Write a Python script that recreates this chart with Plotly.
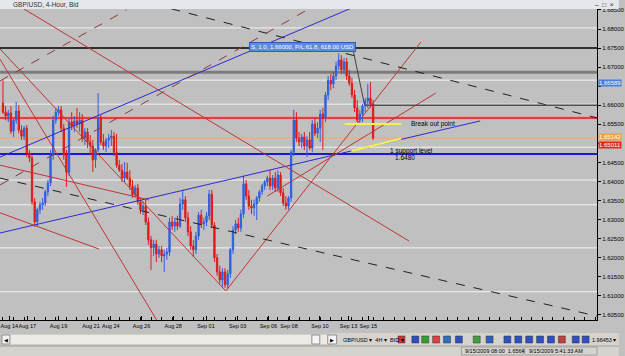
import plotly.graph_objects as go

# ---------------- data ----------------
OPEN = [1.6606,1.6582,1.6572,1.6580,1.6532,1.6561,1.6585,1.6535,1.6519,1.6540,
        1.6475,1.6462,1.6347,1.6294,1.6326,1.6339,1.6344,1.6373,1.6396,1.6469,
        1.6561,1.6582,1.6588,1.6540,1.6469,1.6425,1.6556,1.6546,1.6559,1.6551,
        1.6561,1.6514,1.6530,1.6504,1.6493,1.6457,1.6483,1.6567,1.6504,1.6493,
        1.6509,1.6514,1.6519,1.6477,1.6443,1.6430,1.6409,1.6425,1.6409,1.6388,
        1.6365,1.6383,1.6347,1.6326,1.6336,1.6294,1.6247,1.6226,1.6236,1.6210,
        1.6221,1.6205,1.6210,1.6215,1.6294,1.6283,1.6294,1.6283,1.6341,1.6352,
        1.6305,1.6268,1.6231,1.6221,1.6257,1.6312,1.6289,1.6294,1.6310,1.6367,
        1.6286,1.6200,1.6163,1.6142,1.6163,1.6129,1.6158,1.6221,1.6273,1.6289,
        1.6278,1.6315,1.6394,1.6362,1.6336,1.6331,1.6341,1.6357,1.6373,1.6388,
        1.6399,1.6409,1.6388,1.6409,1.6383,1.6417,1.6370,1.6344,1.6336,1.6357,
        1.6477,1.6561,1.6514,1.6504,1.6517,1.6493,1.6509,1.6488,1.6551,1.6527,
        1.6540,1.6577,1.6567,1.6627,1.6666,1.6656,1.6677,1.6703,1.6719,1.6693,
        1.6714,1.6677,1.6658,1.6627,1.6593,1.6561,1.6577,1.6598,1.6611,1.6619,
        1.6603]
HIGH = [1.6666,1.6598,1.6588,1.6598,1.6567,1.6609,1.6601,1.6548,1.6546,1.6548,
        1.6483,1.6469,1.6357,1.6331,1.6347,1.6357,1.6378,1.6404,1.6483,1.6572,
        1.6593,1.6598,1.6598,1.6551,1.6483,1.6567,1.6582,1.6572,1.6593,1.6582,
        1.6577,1.6540,1.6540,1.6522,1.6509,1.6488,1.6632,1.6577,1.6525,1.6514,
        1.6525,1.6535,1.6530,1.6525,1.6457,1.6446,1.6451,1.6449,1.6430,1.6404,
        1.6391,1.6394,1.6357,1.6347,1.6352,1.6305,1.6257,1.6247,1.6247,1.6231,
        1.6231,1.6221,1.6226,1.6305,1.6310,1.6305,1.6310,1.6357,1.6378,1.6362,
        1.6320,1.6283,1.6247,1.6268,1.6320,1.6326,1.6305,1.6320,1.6378,1.6378,
        1.6294,1.6210,1.6179,1.6173,1.6173,1.6168,1.6226,1.6283,1.6299,1.6305,
        1.6326,1.6415,1.6404,1.6378,1.6352,1.6352,1.6362,1.6378,1.6394,1.6404,
        1.6415,1.6430,1.6417,1.6425,1.6430,1.6425,1.6383,1.6362,1.6362,1.6483,
        1.6588,1.6582,1.6530,1.6525,1.6530,1.6519,1.6530,1.6561,1.6567,1.6556,
        1.6588,1.6593,1.6635,1.6677,1.6682,1.6687,1.6714,1.6737,1.6732,1.6724,
        1.6724,1.6693,1.6672,1.6640,1.6614,1.6588,1.6603,1.6619,1.6656,1.6661,
        1.6614]
LOW = [1.6577,1.6561,1.6556,1.6525,1.6517,1.6551,1.6527,1.6509,1.6509,1.6464,
       1.6451,1.6339,1.6281,1.6283,1.6315,1.6326,1.6336,1.6362,1.6388,1.6457,
       1.6551,1.6572,1.6530,1.6457,1.6386,1.6415,1.6535,1.6530,1.6540,1.6530,
       1.6504,1.6496,1.6488,1.6469,1.6425,1.6436,1.6477,1.6496,1.6483,1.6477,
       1.6488,1.6493,1.6467,1.6436,1.6425,1.6399,1.6399,1.6404,1.6378,1.6357,
       1.6357,1.6339,1.6315,1.6312,1.6286,1.6234,1.6168,1.6205,1.6189,1.6200,
       1.6189,1.6163,1.6195,1.6205,1.6273,1.6268,1.6273,1.6278,1.6326,1.6294,
       1.6257,1.6221,1.6202,1.6210,1.6247,1.6278,1.6273,1.6283,1.6299,1.6278,
       1.6189,1.6153,1.6132,1.6124,1.6121,1.6119,1.6147,1.6210,1.6262,1.6268,
       1.6268,1.6305,1.6352,1.6326,1.6315,1.6310,1.6299,1.6347,1.6365,1.6378,
       1.6388,1.6378,1.6378,1.6373,1.6373,1.6362,1.6336,1.6326,1.6326,1.6347,
       1.6467,1.6504,1.6493,1.6488,1.6483,1.6464,1.6483,1.6477,1.6519,1.6514,
       1.6504,1.6483,1.6556,1.6614,1.6640,1.6645,1.6666,1.6693,1.6682,1.6682,
       1.6666,1.6651,1.6619,1.6582,1.6556,1.6551,1.6556,1.6582,1.6593,1.6593,
       1.6509]
CLOSE = [1.6582,1.6572,1.6580,1.6532,1.6561,1.6585,1.6535,1.6519,1.6540,1.6475,
         1.6462,1.6347,1.6294,1.6326,1.6339,1.6344,1.6373,1.6396,1.6469,1.6561,
         1.6582,1.6588,1.6540,1.6469,1.6425,1.6556,1.6546,1.6559,1.6551,1.6561,
         1.6514,1.6530,1.6504,1.6493,1.6457,1.6483,1.6567,1.6504,1.6493,1.6509,
         1.6514,1.6519,1.6477,1.6443,1.6430,1.6409,1.6425,1.6409,1.6388,1.6365,
         1.6383,1.6347,1.6326,1.6336,1.6294,1.6247,1.6226,1.6236,1.6210,1.6221,
         1.6205,1.6210,1.6215,1.6294,1.6283,1.6294,1.6283,1.6341,1.6352,1.6305,
         1.6268,1.6231,1.6221,1.6257,1.6312,1.6289,1.6294,1.6310,1.6367,1.6286,
         1.6200,1.6163,1.6142,1.6163,1.6129,1.6158,1.6221,1.6273,1.6289,1.6278,
         1.6315,1.6394,1.6362,1.6336,1.6331,1.6341,1.6357,1.6373,1.6388,1.6399,
         1.6409,1.6388,1.6409,1.6383,1.6417,1.6370,1.6344,1.6336,1.6357,1.6477,
         1.6561,1.6514,1.6504,1.6517,1.6493,1.6509,1.6488,1.6551,1.6527,1.6540,
         1.6577,1.6567,1.6627,1.6666,1.6656,1.6677,1.6703,1.6719,1.6693,1.6714,
         1.6677,1.6658,1.6627,1.6593,1.6561,1.6577,1.6598,1.6611,1.6619,1.6603,
         1.65142]
BARS = list(range(len(CLOSE)))

DATE_TICK_BARS = [2.4, 9.2, 21, 33.3, 40.8, 52.4, 64.4, 76.8, 88.8, 100.4, 108.2, 119.9, 130.7, 138.2]
DATE_TICK_TEXT = ["Aug 14", "Aug 17", "Aug 19", "Aug 21", "Aug 24", "Aug 26", "Aug 28",
                  "Sep 01", "Sep 03", "Sep 06", "Sep 08", "Sep 10", "Sep 13", "Sep 15"]

PRICE_TICKS = [1.605, 1.610, 1.615, 1.620, 1.625, 1.630, 1.635, 1.640, 1.645, 1.650,
               1.655, 1.660, 1.665, 1.670, 1.675, 1.680, 1.685]
PRICE_TICK_TEXT = ["1.60500", "1.61000", "1.61500", "1.62000", "1.62500", "1.63000", "1.63500",
                   "1.64000", "1.64500", "", "1.65500", "1.66000", "", "1.67000", "1.67500",
                   "1.68000", "1.68500"]

# horizontal levels
WHITE_LEVELS = [1.6803, 1.6666, 1.6603, 1.6490, 1.6404, 1.6339, 1.6226, 1.6111]
BLACK_LEVEL = 1.6750
GRAY_LEVEL = 1.6687
RED_LEVEL = 1.6567
BID_LEVEL = 1.65142
SUPPORT_LEVEL = 1.6472
TRADE_PRICE = 1.66000
TRADE_BAR = 136.7

# trend lines: (bar0, price0, bar1, price1)
BLUE_LINES = [(-1.12, 1.6464, 131.8, 1.6855), (-1.12, 1.6265, 180.5, 1.6559)]
RED_LINES = [(7.87, 1.6853, 153.6, 1.6244), (-1.12, 1.6748, 84.3, 1.6113),
             (84.3, 1.6113, 158.1, 1.6766), (-1.12, 1.6721, 58.1, 1.6037),
             (-1.12, 1.6443, 55.1, 1.6352), (100, 1.6362, 163.7, 1.6632),
             (-1.12, 1.6318, 36.3, 1.6223)]
BLACK_DASH_LINES = [(63.7, 1.6853, 224.7, 1.6567), (-1.12, 1.6409, 224.7, 1.6047)]
BROWN_DASH_LINES = [(-1.12, 1.6664, 46.8, 1.6850), (-1.12, 1.6391, 115, 1.6850)]
YELLOW_LINES = [(131.8, 1.6480, 150.6, 1.6512), (129.2, 1.6551, 150.6, 1.6551)]
CONNECTOR = (132.6, 1.6740, 136.7, 1.6603)

RIGHT_LABELS = [("1.66589", 1.66589, "#4a7fd6", 0), ("1.65142", 1.65142, "#f0a040", 1.5),
                ("1.65011", 1.65011, "#e02828", -2)]

# ---------------- figure ----------------
W, H = 625, 356
ML, MR, MT, MB = 0, 22, 9, 36
PW, PH = W - ML - MR, H - MT - MB

def px(xp):
    return (xp - ML) / PW

def py(yp):
    return (H - MB - yp) / PH

FONT = "Liberation Sans"

fig = go.Figure()
fig.add_trace(go.Candlestick(
    x=BARS, open=OPEN, high=HIGH, low=LOW, close=CLOSE,
    increasing=dict(line=dict(color="#2f5fe0", width=1), fillcolor="#2f5fe0"),
    decreasing=dict(line=dict(color="#e01a1a", width=1), fillcolor="#e01a1a"),
    whiskerwidth=0, hoverinfo="skip"))

shapes = []

def hline(y, color, width, dash="solid", x0=0, layer="below"):
    shapes.append(dict(type="line", xref="paper", yref="y", x0=x0, x1=1, y0=y, y1=y,
                       line=dict(color=color, width=width, dash=dash), layer=layer))

for lv in WHITE_LEVELS:
    hline(lv, "#f2f2f2", 1)
hline(BLACK_LEVEL, "#000000", 1.5)
hline(GRAY_LEVEL, "#7c7c7c", 3)
hline(RED_LEVEL, "#f0a0a0", 4)
hline(RED_LEVEL, "#d82020", 1.5)
hline(BID_LEVEL, "#e6b08c", 2)
hline(SUPPORT_LEVEL, "#1a1ad0", 2)

def seg(t, color, width, dash="solid", layer="above"):
    shapes.append(dict(type="line", xref="x", yref="y", x0=t[0], y0=t[1], x1=t[2], y1=t[3],
                       line=dict(color=color, width=width, dash=dash), layer=layer))

for t in BLUE_LINES:
    seg(t, "#2b2bd0", 1)
for t in RED_LINES:
    seg(t, "#c03434", 1)
for t in BLACK_DASH_LINES:
    seg(t, "#202020", 1, "dash")
for t in BROWN_DASH_LINES:
    seg(t, "#8a3a3a", 1, "dash")
for t in YELLOW_LINES:
    seg(t, "#f4f050", 2)
seg(CONNECTOR, "#404040", 1)
shapes.append(dict(type="line", xref="x", yref="y", x0=TRADE_BAR, x1=230, y0=TRADE_PRICE, y1=TRADE_PRICE,
                   line=dict(color="#505050", width=1.5), layer="above"))

# window chrome
shapes.append(dict(type="rect", xref="paper", yref="paper", x0=px(0), x1=px(W), y0=py(9), y1=py(0),
                   fillcolor="#e4e7ec", line=dict(width=0), layer="above"))
shapes.append(dict(type="rect", xref="paper", yref="paper", x0=px(0), x1=px(W), y0=py(356), y1=py(333),
                   fillcolor="#d6d3ce", line=dict(width=0), layer="above"))
shapes.append(dict(type="rect", xref="paper", yref="paper", x0=px(1), x1=px(333), y0=py(345), y1=py(334),
                   fillcolor="#ecebe6", line=dict(color="#b0b0b0", width=1), layer="above"))
shapes.append(dict(type="rect", xref="paper", yref="paper", x0=px(2), x1=px(10), y0=py(344), y1=py(335),
                   fillcolor="#f4f4f4", line=dict(color="#909090", width=1), layer="above"))
shapes.append(dict(type="rect", xref="paper", yref="paper", x0=px(315), x1=px(323), y0=py(344), y1=py(335),
                   fillcolor="#f4f4f4", line=dict(color="#909090", width=1), layer="above"))
shapes.append(dict(type="rect", xref="paper", yref="paper", x0=px(331), x1=px(340), y0=py(344), y1=py(335),
                   fillcolor="#f4f4f4", line=dict(color="#909090", width=1), layer="above"))
shapes.append(dict(type="line", xref="paper", yref="paper", x0=px(0), x1=px(W), y0=py(346), y1=py(346),
                   line=dict(color="#a0a0a0", width=1), layer="above"))
shapes.append(dict(type="rect", xref="paper", yref="paper", x0=px(466), x1=px(528), y0=py(355), y1=py(347),
                   fillcolor="rgba(0,0,0,0)", line=dict(color="#a0a0a0", width=1), layer="above"))
shapes.append(dict(type="rect", xref="paper", yref="paper", x0=px(530), x1=px(603), y0=py(355), y1=py(347),
                   fillcolor="rgba(0,0,0,0)", line=dict(color="#a0a0a0", width=1), layer="above"))
ICONS = [(402, "#d03030"), (416, "#3050c0"), (426, "#30a030"), (437, "#e04040"), (448, "#3070c0"),
         (460, "#3050c0"), (478, "#40a040"), (491, "#3060c0"), (509, "#3050c0"), (520, "#3050c0"),
         (531, "#3050c0"), (542, "#3050c0"), (553, "#3050c0"), (564, "#c04040"), (578, "#3050c0"),
         (588, "#3050c0")]
for xi, col in ICONS:
    shapes.append(dict(type="rect", xref="paper", yref="paper", x0=px(xi), x1=px(xi + 7), y0=py(343), y1=py(336),
                       fillcolor=col, line=dict(color="#303030", width=0.5), layer="above"))

annotations = []

def note(text, x, y, xref="x", yref="y", size=7, color="#000000", xanchor="left", yanchor="middle", **kw):
    annotations.append(dict(text=text, x=x, y=y, xref=xref, yref=yref, showarrow=False,
                            font=dict(family=FONT, size=size, color=color),
                            xanchor=xanchor, yanchor=yanchor, **kw))

note("Break out point", 153.6, 1.6551, size=6.5)
note("1 support level", 145.7, 1.6481, size=6.5)
note("1.6480", 147.6, 1.6462, size=6.5)
note("S, 1.0, 1.66000, P/L:61.8, 618.00 USD", 113.2, 1.6754, size=6, color="#ffffff",
     xanchor="center", bgcolor="#5b8ddc", bordercolor="#2e5fb0", borderwidth=1, borderpad=1)

for txt, val, col, ys in RIGHT_LABELS:
    note(txt, 1.0, val, xref="paper", size=6, color="#ffffff", bgcolor=col, borderpad=0, xshift=1, yshift=ys)

note("GBP/USD, 4-Hour, Bid", px(11), py(4.5), xref="paper", yref="paper", size=6.5, color="#303030")
note("\u2013  \u25a1  \u00d7", px(622), py(4.5), xref="paper", yref="paper", size=6.5, color="#303030", xanchor="right")
note("\u25c0", px(6), py(339.5), xref="paper", yref="paper", size=5, color="#000000", xanchor="center")
note("\u25b6", px(335.5), py(339.5), xref="paper", yref="paper", size=5, color="#000000", xanchor="center")
note("GBP/USD \u25be  4H \u25be  BID \u25be", px(344), py(339.5), xref="paper", yref="paper", size=5.5, color="#000000")
note("1.96453 \u25be", px(624), py(339.5), xref="paper", yref="paper", size=5.5, color="#000000", xanchor="right")
note("9/15/2009 08:00  1.6564", px(468), py(351), xref="paper", yref="paper", size=5.5, color="#000000")
note("9/15/2009 5:41:33 AM", px(532), py(351), xref="paper", yref="paper", size=5.5, color="#000000")

fig.update_layout(
    width=W, height=H, margin=dict(l=ML, r=MR, t=MT, b=MB, pad=0),
    paper_bgcolor="#c0c0c0", plot_bgcolor="#c0c0c0", showlegend=False,
    shapes=shapes, annotations=annotations,
    font=dict(family=FONT, size=7, color="#000000"),
    xaxis=dict(range=[-1.12, 224.7], tickmode="array", tickvals=DATE_TICK_BARS, ticktext=DATE_TICK_TEXT,
               tickangle=0, ticks="inside", ticklen=4, tickcolor="#000000", showgrid=False, zeroline=False,
               showline=True, linecolor="#000000", linewidth=1, rangeslider=dict(visible=False),
               tickfont=dict(family=FONT, size=5.5, color="#000000"),
               minor=dict(ticks="inside", ticklen=3, tickcolor="#000000", dtick=4, tick0=0, showgrid=False)),
    yaxis=dict(range=[1.60368, 1.68526], side="right", tickmode="array", tickvals=PRICE_TICKS,
               ticktext=PRICE_TICK_TEXT,
               ticks="outside", ticklen=3, tickcolor="#000000", showgrid=False, zeroline=False,
               showline=True, linecolor="#000000", linewidth=1,
               tickfont=dict(family=FONT, size=6, color="#000000")),
)

fig.write_html("out.html")
